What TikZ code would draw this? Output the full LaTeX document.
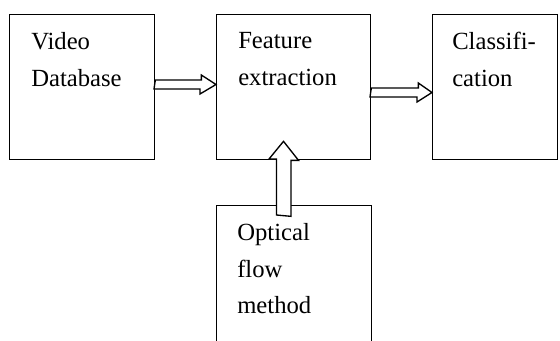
\documentclass[tikz,border=0pt]{standalone}
\usepackage{fontspec}
\setmainfont{Liberation Serif}
\usetikzlibrary{calc}
\begin{document}
\begin{tikzpicture}[x=0.75pt,y=-0.75pt,
  box/.style={draw,line width=1pt,inner sep=0pt,anchor=north west,minimum height=108.75pt},
  lbl/.style={anchor=north west,inner sep=0pt,align=left,font=\fontsize{18.5}{27.6}\selectfont},
  harrow/.style={draw,line width=1pt,fill=white,line join=miter}]
\useasboundingbox (0,0) rectangle (560,340);
% boxes
\node[box,minimum width=108.75pt] (vd) at (9,14) {};
\node[box,minimum width=115.5pt] (fe) at (216,14) {};
\node[box,minimum width=93.75pt] (cl) at (432,14) {};
\node[box,minimum width=116.25pt,minimum height=116.25pt] (of) at (216,205) {};
% labels
\node[lbl] (tvd) at ($(vd.north west)+(22,18)$) {Video\\Database};
\node[lbl] (tfe) at ($(fe.north west)+(22,18.5)$) {Feature\\extraction};
\node[lbl] (tcl) at ($(cl.north west)+(20,18)$) {Classifi-\\cation};
\node[lbl] (tof) at ($(of.north west)+(21,18)$) {Optical\\flow\\method};
% hollow arrows
\draw[harrow] ($(vd.north east)+(0,66)$) -- ++(46,0) -- ++(0,-5)
  -- ($(fe.north west)+(0,70.5)$) -- ++(-16,9.5) -- ++(0,-5) -- ++(-46,0) -- cycle;
\draw[harrow] ($(fe.north east)+(0,74)$) -- ++(47,0) -- ++(0,-5)
  -- ($(cl.north west)+(0,78.5)$) -- ++(-15,9.5) -- ++(0,-5) -- ++(-47,0) -- cycle;
\draw[harrow] ($(of.north west)+(60.5,10)$) -- ++(0,-56) -- ++(-7.5,0)
  -- ($(fe.south west)+(67.5,-19)$) -- ++(15,19) -- ++(-7.5,0) -- ++(0,56) -- cycle;
\end{tikzpicture}
\end{document}
